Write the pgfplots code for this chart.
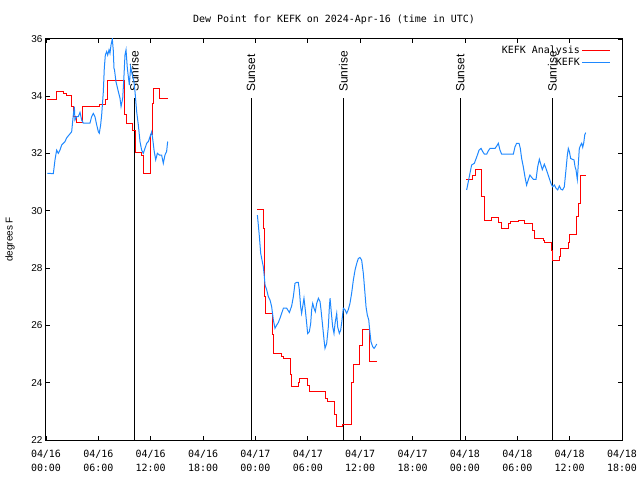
\documentclass[border=0pt]{standalone}
\usepackage{fontspec}
\setmainfont{DejaVu Sans Mono}
\newfontfamily\sansf{Liberation Sans}
\usepackage{pgfplots}
\pgfplotsset{compat=1.18}
\definecolor{anared}{RGB}{255,0,0}
\definecolor{obsblue}{RGB}{30,136,255}

\begin{document}
\begin{tikzpicture}
\path[use as bounding box] (-46bp,-40bp) rectangle (594bp,440bp);
\begin{axis}[
  scale only axis,
  width=576bp, height=401bp,
  xmin=0, xmax=66, ymin=22, ymax=36,
  xtick={0,6,...,66},
  xticklabels={{04/16\\00:00},{04/16\\06:00},{04/16\\12:00},{04/16\\18:00},
               {04/17\\00:00},{04/17\\06:00},{04/17\\12:00},{04/17\\18:00},
               {04/18\\00:00},{04/18\\06:00},{04/18\\12:00},{04/18\\18:00}},
  ytick={22,24,...,36},
  /pgf/number format/assume math mode=true,
  tick align=inside,
  major tick length=4bp,
  axis line style={line width=1bp},
  every tick/.style={line width=0.8bp},
  xticklabel style={align=center, yshift=-7bp, font=\fontsize{10}{14}\selectfont},
  yticklabel style={font=\sansf\fontsize{10}{12}\selectfont},
  ylabel={degrees F},
  every axis y label/.style={at={(axis description cs:-0.0625,0.5)}, rotate=90, anchor=center, font=\sansf\fontsize{10}{12}\selectfont},
  title={Dew Point for KEFK on 2024-Apr-16 (time in UTC)},
  title style={yshift=5bp, font=\fontsize{10}{12}\selectfont},
  legend style={at={(axis description cs:1,1)}, anchor=north east, xshift=-8bp, yshift=-3bp,
    draw=none, fill=none, font=\fontsize{10}{12}\selectfont, row sep=-1bp},
  legend cell align=right,
  legend plot pos=right,
  legend image code/.code={\draw[#1] (0bp,0bp) -- (28bp,0bp);},
  every axis plot/.append style={line width=1bp, mark=none},
]

% sunrise / sunset markers
\addplot[black, forget plot] coordinates {(10.12,22) (10.12,33.94)};
\addplot[black, forget plot] coordinates {(23.49,22) (23.49,33.94)};
\addplot[black, forget plot] coordinates {(34.07,22) (34.07,33.94)};
\addplot[black, forget plot] coordinates {(47.47,22) (47.47,33.94)};
\addplot[black, forget plot] coordinates {(58.02,22) (58.02,33.94)};
\node[rotate=90, anchor=west, inner sep=0pt, font=\sansf\fontsize{12}{14}\selectfont] at (axis cs:10.12,34.15) {Sunrise};
\node[rotate=90, anchor=west, inner sep=0pt, font=\sansf\fontsize{12}{14}\selectfont] at (axis cs:23.49,34.15) {Sunset};
\node[rotate=90, anchor=west, inner sep=0pt, font=\sansf\fontsize{12}{14}\selectfont] at (axis cs:34.07,34.15) {Sunrise};
\node[rotate=90, anchor=west, inner sep=0pt, font=\sansf\fontsize{12}{14}\selectfont] at (axis cs:47.47,34.15) {Sunset};
\node[rotate=90, anchor=west, inner sep=0pt, font=\sansf\fontsize{12}{14}\selectfont] at (axis cs:58.02,34.15) {Sunrise};

% KEFK Analysis (hourly steps)
\addplot[color=anared, const plot] coordinates {
(0.15,33.9) (1.2,34.16) (2.0,34.1) (2.3,34.02) (2.95,33.65) (3.15,33.3) (3.45,33.1)
(4.2,33.66) (6.1,33.7) (6.8,33.9) (7.1,34.54) (9.05,33.35) (9.25,33.06) (9.93,32.82)
(10.2,32.05) (10.96,31.95) (11.15,31.31) (12.0,32.65) (12.22,33.76) (12.3,34.28)
(13.06,33.93) (14.0,33.93)};
\addlegendentry{KEFK Analysis}
\addplot[color=anared, const plot, forget plot] coordinates {
(24.2,30.05) (24.9,29.4) (25.0,27.0) (25.2,26.4) (25.93,25.7) (26.1,25.03) (27.0,24.93)
(27.2,24.85) (28.0,24.3) (28.15,23.88) (28.95,24.0) (29.1,24.15) (30.0,23.9) (30.2,23.69)
(31.97,23.45) (32.24,23.33) (33.0,22.9) (33.3,22.46) (34.0,22.55) (34.95,24.0) (35.2,24.64)
(35.95,25.3) (36.3,25.86) (37.1,24.73) (37.9,24.73)};
\addplot[color=anared, const plot, forget plot] coordinates {
(48.13,31.08) (48.9,31.25) (49.16,31.43) (49.85,30.5) (50.23,29.66) (51.0,29.77) (51.9,29.6)
(52.14,29.39) (53.0,29.55) (53.17,29.62) (54.12,29.66) (54.88,29.56) (55.7,29.3) (56.0,29.04)
(57.0,28.97) (57.17,28.91) (57.94,28.6) (58.06,28.25) (58.82,28.4) (58.95,28.69) (59.85,28.9)
(60.0,29.16) (60.81,29.8) (61.0,30.24) (61.19,31.25) (61.84,31.25)};

% KEFK observations
\addplot[color=obsblue] coordinates {
(0.15,31.31) (0.84,31.3) (1.03,31.78) (1.22,32.12) (1.41,32.01) (1.6,32.12) (1.8,32.3)
(2.18,32.42) (2.37,32.55) (2.94,32.76) (3.13,33.35) (3.25,33.64) (3.32,33.17) (3.51,33.29)
(3.7,33.29) (3.9,33.44) (4.09,33.17) (4.28,33.06) (4.66,33.06) (5.04,33.06) (5.23,33.29)
(5.42,33.4) (5.61,33.29) (5.81,33.0) (6.0,32.76) (6.11,32.71) (6.26,33.0) (6.38,33.35)
(6.57,34.16) (6.68,34.98) (6.8,35.44) (6.95,35.56) (7.07,35.44) (7.22,35.62) (7.33,35.5)
(7.45,35.79) (7.6,36.0) (7.71,35.6) (7.79,34.98) (7.85,34.92) (8.02,34.51) (8.29,34.16)
(8.48,33.93) (8.6,33.64) (8.79,33.93) (8.94,34.74) (9.05,35.44) (9.17,35.62) (9.32,34.98)
(9.55,34.39) (9.7,35.03) (9.89,34.74) (10.08,34.51) (10.2,34.16) (10.39,33.46) (10.58,33.0)
(10.77,32.42) (10.96,32.12) (11.15,32.01) (11.34,32.18) (11.54,32.36) (11.73,32.42)
(11.92,32.59) (12.11,32.76) (12.22,32.53) (12.38,32.12) (12.57,31.78) (12.76,32.01)
(12.99,31.95) (13.25,31.95) (13.44,31.66) (13.63,31.95) (13.82,32.07) (13.94,32.42)};
\addlegendentry{KEFK}
\addplot[color=obsblue, forget plot] coordinates {
(24.22,29.85) (24.33,29.51) (24.45,29.1) (24.6,28.52) (24.75,28.28) (24.9,28.05) (25.0,27.76)
(25.1,27.41) (25.29,27.24) (25.48,27.0) (25.67,26.89) (25.86,26.65) (26.05,26.19) (26.24,25.9)
(26.43,26.01) (26.62,26.1) (26.81,26.25) (27.0,26.42) (27.2,26.6) (27.58,26.6) (27.89,26.45)
(28.15,26.68) (28.34,27.0) (28.53,27.47) (28.72,27.5) (28.91,27.5) (29.03,27.24) (29.18,26.65)
(29.29,26.42) (29.41,26.65) (29.56,26.95) (29.71,26.55) (29.87,26.07) (29.98,25.72) (30.17,25.78)
(30.33,26.07) (30.44,26.55) (30.56,26.77) (30.71,26.6) (30.86,26.48) (31.02,26.77) (31.21,26.95)
(31.4,26.83) (31.51,26.55) (31.67,26.07) (31.86,25.49) (31.97,25.2) (32.16,25.37) (32.35,25.95)
(32.47,26.65) (32.55,26.95) (32.7,26.42) (32.85,25.95) (33.0,25.72) (33.12,26.07) (33.31,26.42)
(33.42,25.95) (33.61,25.72) (33.77,25.84) (33.92,26.19) (34.07,26.6) (34.26,26.55) (34.45,26.42)
(34.64,26.55) (34.83,26.77) (35.02,27.12) (35.22,27.59) (35.41,27.93) (35.6,28.16) (35.79,28.34)
(35.98,28.37) (36.17,28.28) (36.36,27.82) (36.55,27.12) (36.67,26.65) (36.82,26.36) (36.98,26.19)
(37.13,25.72) (37.24,25.43) (37.43,25.26) (37.59,25.2) (37.74,25.26) (37.89,25.35)};
\addplot[color=obsblue, forget plot] coordinates {
(48.2,30.73) (48.39,31.02) (48.58,31.31) (48.77,31.6) (49.08,31.66) (49.23,31.78) (49.43,31.95)
(49.62,32.12) (49.85,32.18) (50.04,32.07) (50.23,31.98) (50.5,31.98) (50.69,32.1) (50.88,32.18)
(51.45,32.18) (51.64,32.26) (51.83,32.36) (52.02,32.12) (52.21,31.98) (52.97,31.98) (53.55,31.98)
(53.74,32.24) (53.93,32.36) (54.2,32.36) (54.35,32.18) (54.5,31.83) (54.69,31.54) (54.88,31.19)
(55.07,30.9) (55.26,31.08) (55.45,31.25) (55.65,31.17) (55.84,31.1) (56.15,31.1) (56.34,31.54)
(56.53,31.8) (56.72,31.6) (56.87,31.44) (57.1,31.63) (57.29,31.48) (57.48,31.31) (57.67,31.13)
(57.86,30.96) (58.06,30.84) (58.25,30.9) (58.44,30.79) (58.63,30.73) (58.82,30.87) (59.01,30.75)
(59.2,30.73) (59.39,30.84) (59.58,31.43) (59.74,31.95) (59.85,32.18) (59.97,32.07) (60.12,31.83)
(60.31,31.8) (60.5,31.78) (60.62,31.54) (60.73,31.43) (60.88,31.1) (61.0,31.66) (61.11,32.18)
(61.27,32.3) (61.38,32.36) (61.5,32.22) (61.61,32.36) (61.73,32.65) (61.84,32.73)};
\end{axis}
\end{tikzpicture}
\end{document}
